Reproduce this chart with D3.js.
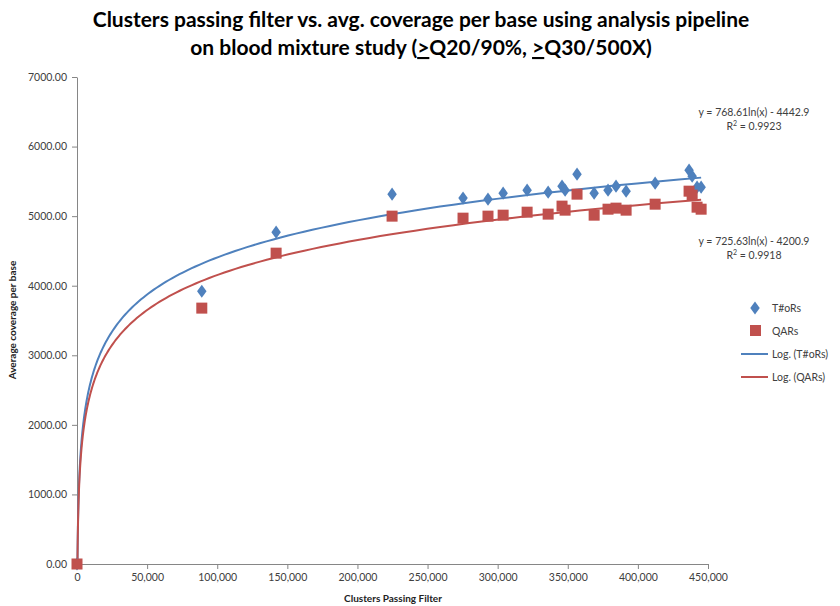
<!DOCTYPE html>
<html>
<head>
<meta charset="utf-8">
<script src="https://cdn.jsdelivr.net/npm/d3@7"></script>
<style>
  body { margin: 0; background: #fff; }
  svg { display: block; font-family: Lato, "Open Sans", sans-serif; }
</style>
</head>
<body>
<svg id="chart" width="840" height="606"></svg>
<script>
// Clusters passing filter for each run
const clusters = [0, 89000, 142000, 224700, 275300, 293100, 303900, 321000, 336000, 345900, 348100,
  356600, 368800, 378700, 384400, 391600, 412300, 436500, 438700, 442200, 445100];
// Average coverage per base, T#oRs
const torCoverage = [0, 3920, 4770, 5316, 5259, 5244, 5330, 5373, 5345, 5431, 5373,
  5603, 5330, 5373, 5431, 5359, 5474, 5661, 5575, 5417, 5417];
// Average coverage per base, QARs
const qarCoverage = [0, 3678, 4468, 5000, 4971, 5000, 5014, 5057, 5029, 5144, 5086,
  5316, 5014, 5100, 5115, 5086, 5172, 5359, 5302, 5129, 5100];
// Logarithmic trend fits: y = a ln(x) + b
const torFit = { a: 768.61, b: -4442.9, r2: "0.9923" };
const qarFit = { a: 725.63, b: -4200.9, r2: "0.9918" };
const xTicks = [0, 50000, 100000, 150000, 200000, 250000, 300000, 350000, 400000, 450000];
const yTicks = [0, 1000, 2000, 3000, 4000, 5000, 6000, 7000];

const blue = "#4F81BD", red = "#C0504D";
const svg = d3.select("#chart");
const plotLeft = 77, plotRight = 708, plotTop = 77, plotBottom = 564;

const x = d3.scaleLinear().domain([0, 450000]).range([plotLeft, plotRight]);
const y = d3.scaleLinear().domain([0, 7000]).range([plotBottom, plotTop]);

// Title
const title = svg.append("text").attr("text-anchor", "middle")
  .attr("font-weight", "bold").attr("font-size", 21).attr("fill", "#000");
title.append("tspan").attr("x", 421).attr("y", 27)
  .text("Clusters passing filter vs. avg. coverage per base using analysis pipeline");
const l2 = title.append("tspan").attr("x", 421).attr("y", 55);
l2.append("tspan").text("on blood mixture study (");
l2.append("tspan").attr("text-decoration", "underline").text(">");
l2.append("tspan").text("Q20/90%, ");
l2.append("tspan").attr("text-decoration", "underline").text(">");
l2.append("tspan").text("Q30/500X)");

// Axes
const axisColor = "#868686", labelColor = "#404040";
const gx = svg.append("g").attr("transform", `translate(0,${plotBottom})`)
  .call(d3.axisBottom(x).tickValues(xTicks).tickSize(5).tickSizeOuter(0).tickPadding(5)
    .tickFormat(d3.format(",")));
const gy = svg.append("g").attr("transform", `translate(${plotLeft},0)`)
  .call(d3.axisLeft(y).tickValues(yTicks).tickSize(5).tickSizeOuter(0).tickPadding(5)
    .tickFormat(d3.format(".2f")));
[gx, gy].forEach(g => {
  g.select(".domain").attr("stroke", axisColor);
  g.selectAll(".tick line").attr("stroke", axisColor);
  g.selectAll(".tick text").attr("fill", labelColor).attr("font-size", 10.5)
    .attr("font-family", "Lato, 'Open Sans', sans-serif");
});

// Axis titles
svg.append("text").attr("x", 393).attr("y", 602).attr("text-anchor", "middle")
  .attr("font-weight", "bold").attr("font-size", 10).attr("fill", "#222")
  .text("Clusters Passing Filter");
svg.append("text").attr("transform", "translate(16,320) rotate(-90)").attr("text-anchor", "middle")
  .attr("font-weight", "bold").attr("font-size", 10).attr("fill", "#222")
  .text("Average coverage  per base");

// Trend lines
const xMax = d3.max(clusters);
function fitCurve(fit) {
  const x0 = Math.exp(-fit.b / fit.a);
  const pts = d3.range(0, 201).map(i => x0 * Math.pow(xMax / x0, i / 200));
  return pts.map(v => [v, fit.a * Math.log(v) + fit.b]);
}
const line = d3.line().x(d => x(d[0])).y(d => y(d[1]));
const plot = svg.append("g");
plot.append("path").datum(fitCurve(torFit)).attr("d", line)
  .attr("fill", "none").attr("stroke", blue).attr("stroke-width", 2);
plot.append("path").datum(fitCurve(qarFit)).attr("d", line)
  .attr("fill", "none").attr("stroke", red).attr("stroke-width", 2);

// Markers
const diamond = d3.symbol().type(d3.symbolDiamond).size(50);
plot.selectAll(".tor").data(clusters).join("path").attr("class", "tor")
  .attr("d", diamond)
  .attr("transform", (d, i) => `translate(${x(d)},${y(torCoverage[i])}) scale(1.25,1)`)
  .attr("fill", blue);
plot.selectAll(".qar").data(clusters).join("rect").attr("class", "qar")
  .attr("x", d => x(d) - 5.5).attr("y", (d, i) => y(qarCoverage[i]) - 5.5)
  .attr("width", 11).attr("height", 11).attr("fill", red);

// Equation labels
function eq(fit, cy) {
  const t = svg.append("text").attr("text-anchor", "middle").attr("font-size", 10.5).attr("fill", "#404040");
  t.append("tspan").attr("x", 754).attr("y", cy)
    .text(`y = ${fit.a}ln(x) - ${Math.abs(fit.b)}`);
  const r = t.append("tspan").attr("x", 754).attr("y", cy + 14);
  r.append("tspan").text("R");
  r.append("tspan").attr("font-size", 7).attr("dy", -4).text("2");
  r.append("tspan").attr("dy", 4).text(` = ${fit.r2}`);
}
eq(torFit, 116);
eq(qarFit, 245);

// Legend
const lg = svg.append("g").attr("font-size", 10.5).attr("fill", "#404040");
lg.append("path").attr("d", diamond).attr("transform", "translate(755,308) scale(1.25,1)").attr("fill", blue);
lg.append("text").attr("x", 772).attr("y", 312).text("T#oRs");
lg.append("rect").attr("x", 750).attr("y", 325).attr("width", 11).attr("height", 11).attr("fill", red);
lg.append("text").attr("x", 772).attr("y", 335).text("QARs");
lg.append("line").attr("x1", 741).attr("x2", 768).attr("y1", 354).attr("y2", 354)
  .attr("stroke", blue).attr("stroke-width", 2);
lg.append("text").attr("x", 772).attr("y", 358).text("Log. (T#oRs)");
lg.append("line").attr("x1", 741).attr("x2", 768).attr("y1", 377).attr("y2", 377)
  .attr("stroke", red).attr("stroke-width", 2);
lg.append("text").attr("x", 772).attr("y", 381).text("Log. (QARs)");
</script>
</body>
</html>
